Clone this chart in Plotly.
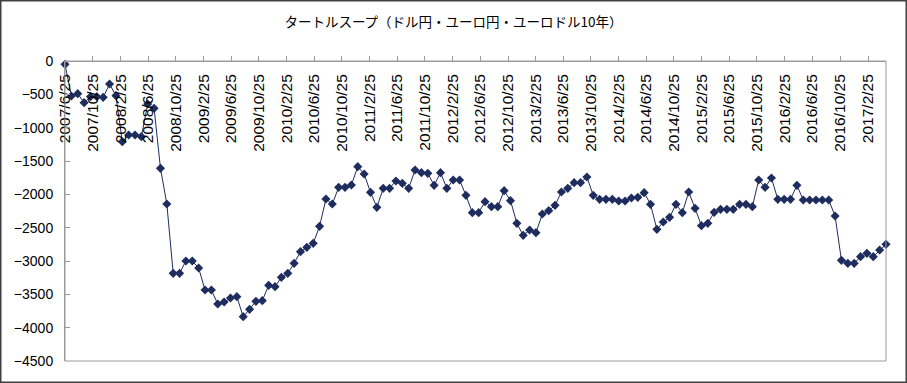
import pandas as pd
import plotly.graph_objects as go

TITLE = "タートルスープ（ドル円・ユーロ円・ユーロドル10年）"

START_DATE = "2007-06-25"
STEP_DAYS = 28

VALUES = [
    -50, -525, -490, -625, -535, -535, -545, -345, -520, -1210,
    -1110, -1110, -1135, -645, -710, -1610, -2145, -3185, -3185, -3000,
    -3000, -3105, -3435, -3435, -3645, -3615, -3555, -3535, -3835, -3725,
    -3605, -3595, -3365, -3385, -3245, -3185, -3035, -2860, -2795, -2735,
    -2480, -2070, -2145, -1895, -1895, -1860, -1585, -1695, -1970, -2195,
    -1910, -1910, -1800, -1835, -1910, -1635, -1675, -1685, -1865, -1675,
    -1910, -1785, -1785, -2015, -2275, -2275, -2110, -2185, -2185, -1945,
    -2095, -2435, -2615, -2535, -2575, -2295, -2245, -2165, -1965, -1910,
    -1825, -1825, -1740, -2015, -2075, -2075, -2075, -2100, -2100, -2055,
    -2045, -1975, -2150, -2525, -2415, -2345, -2150, -2275, -1965, -2210,
    -2470, -2435, -2270, -2225, -2225, -2225, -2150, -2150, -2185, -1785,
    -1895, -1755, -2075, -2075, -2075, -1865, -2085, -2085, -2085, -2085,
    -2085, -2325, -2990, -3035, -3035, -2935, -2885, -2935, -2835, -2750,
]

TICK_LABELS = [
    "2007/6/25", "2007/10/25", "2008/2/25", "2008/6/25", "2008/10/25",
    "2009/2/25", "2009/6/25", "2009/10/25", "2010/2/25", "2010/6/25",
    "2010/10/25", "2011/2/25", "2011/6/25", "2011/10/25", "2012/2/25",
    "2012/6/25", "2012/10/25", "2013/2/25", "2013/6/25", "2013/10/25",
    "2014/2/25", "2014/6/25", "2014/10/25", "2015/2/25", "2015/6/25",
    "2015/10/25", "2016/2/25", "2016/6/25", "2016/10/25", "2017/2/25",
]

Y_TICKS = [0, -500, -1000, -1500, -2000, -2500, -3000, -3500, -4000, -4500]
Y_LABELS = [("\u2212" + str(-v)) if v < 0 else str(v) for v in Y_TICKS]

dates = pd.date_range(START_DATE, periods=len(VALUES), freq=f"{STEP_DAYS}D")
tick_vals = [pd.to_datetime(s, format="%Y/%m/%d") for s in TICK_LABELS]

W, H = 907, 383
ML, MR, MT, MB = 65, 21, 61, 22
PW, PH = W - ML - MR, H - MT - MB

LINE_COLOR = "#1F2D5E"
AXIS_GRAY = "#9A9A9A"

fig = go.Figure()
fig.add_trace(go.Scatter(
    x=dates, y=VALUES, mode="lines+markers",
    line=dict(color=LINE_COLOR, width=1),
    marker=dict(symbol="diamond", size=7, color=LINE_COLOR),
    showlegend=False, cliponaxis=False, hoverinfo="skip",
))

fig.update_layout(
    width=W, height=H,
    margin=dict(l=ML, r=MR, t=MT, b=MB, pad=0, autoexpand=False),
    paper_bgcolor="white", plot_bgcolor="white",
    title=dict(text=TITLE, x=0.5, xanchor="center", y=1 - 22 / H, yanchor="middle",
               font=dict(family="Noto Sans CJK JP", size=13.5, color="black")),
    font=dict(family="Liberation Sans, Arial", color="black"),
    xaxis=dict(
        type="date", range=[dates[0], dates[-1]], automargin=False,
        tickmode="array", tickvals=tick_vals, ticktext=TICK_LABELS,
        tickangle=-90, side="bottom", anchor="free", position=1,
        ticks="inside", ticklen=5, tickcolor=AXIS_GRAY, ticklabelstandoff=6,
        showline=True, linecolor=AXIS_GRAY, linewidth=1,
        showgrid=False, zeroline=False, fixedrange=True,
        tickfont=dict(size=15.5, family="Liberation Sans, Arial", color="black"),
    ),
    yaxis=dict(
        range=[-4500, 0], tickmode="array", tickvals=Y_TICKS, ticktext=Y_LABELS,
        automargin=False, ticklabelstandoff=8,
        ticks="inside", ticklen=5, tickcolor=AXIS_GRAY,
        showline=True, linecolor=AXIS_GRAY, linewidth=1,
        showgrid=False, zeroline=False, domain=[0, 1], fixedrange=True,
        tickfont=dict(size=14, family="Liberation Sans, Arial", color="black"),
    ),
    shapes=[
        dict(type="rect", xref="paper", yref="paper", x0=0, x1=1, y0=0, y1=1,
             line=dict(color=AXIS_GRAY, width=1), layer="above"),
        dict(type="rect", xref="paper", yref="paper",
             x0=-(ML - 0.75) / PW, x1=1 + (MR - 0.75) / PW,
             y0=-(MB - 0.75) / PH, y1=1 + (MT - 0.75) / PH,
             line=dict(color="#404040", width=1.5), layer="above"),
    ],
)

fig.write_html(
    "out.html",
    config={"displayModeBar": False, "staticPlot": True},
    post_script="document.body.style.margin='0';document.body.style.overflow='hidden';",
)
